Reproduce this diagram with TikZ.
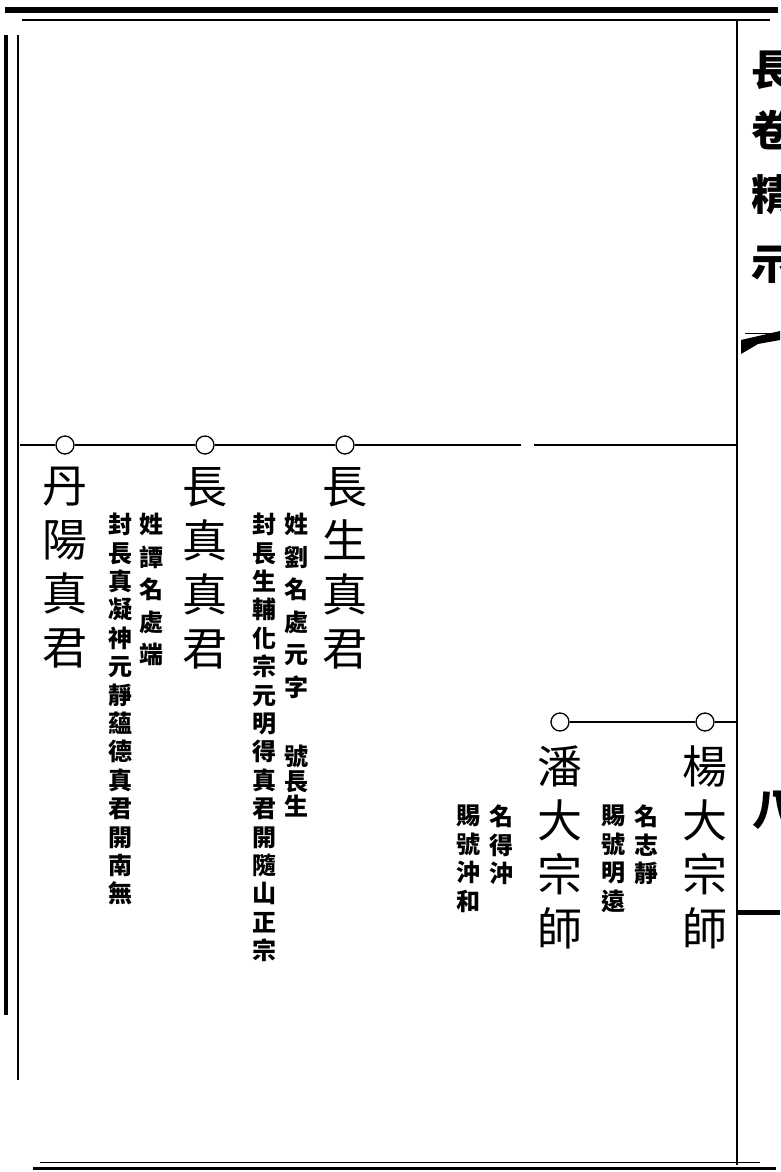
\documentclass[tikz,border=0pt]{standalone}
\usepackage{fontspec}
\newfontfamily\cjk{Noto Sans CJK TC}
\usetikzlibrary{positioning}
\tikzset{
  ring/.style={circle,draw,fill=white,line width=1.3pt,minimum size=18pt,inner sep=0pt},
  rule/.style={line width=1.4pt},
  mainname/.style={font=\cjk\fontsize{45}{54}\selectfont,align=center,anchor=north,inner sep=0pt},
  note/.style={font=\cjk\bfseries\fontsize{24}{28.4}\selectfont,align=center,anchor=north,inner sep=0pt},
  widenote/.style={note,font=\cjk\bfseries\fontsize{24}{32.5}\selectfont},
  tightnote/.style={note,font=\cjk\bfseries\fontsize{24}{25}\selectfont},
  edgechar/.style={font=\cjk\bfseries\fontsize{42}{42}\selectfont,inner sep=0pt},
}
\begin{document}
\begin{tikzpicture}[x=1pt,y=-1pt]
  \useasboundingbox (0,0) rectangle (780,1172);
  % page frame
  \draw[line width=6pt] (5,10) -- (778,10);
  \draw[line width=1.5pt] (22,20) -- (770,20);
  \draw[line width=4pt] (6,35) -- (6,1015);
  \draw[line width=1.5pt] (18,35) -- (18,1080);
  \draw[line width=3pt] (33,1168) -- (776,1168);
  \draw[line width=1pt] (40,1162) -- (760,1162);
  \draw[line width=2pt] (737,20) -- (737,1165);
  \draw[line width=5pt] (737,912) -- (780,912);
  \fill (741,354) -- (741,340) -- (780,331) -- (780,340) -- (758,344) -- cycle;
  \draw[line width=1pt] (745,333) -- (780,333);
  % first generation row
  \coordinate (r1-l) at (20,445);
  \coordinate (r1-gl) at (521,445);
  \coordinate (r1-gr) at (534,445);
  \coordinate (r1-r) at (737,445);
  \node[ring] (dy-o) at (65,445) {};
  \node[ring] (cz-o) at (205,445) {};
  \node[ring] (cs-o) at (345,445) {};
  \draw[rule] (r1-l) -- (dy-o);
  \draw[rule] (dy-o) -- (cz-o);
  \draw[rule] (cz-o) -- (cs-o);
  \draw[rule] (cs-o) -- (r1-gl);
  \draw[rule] (r1-gr) -- (r1-r);
  \node[mainname] (dy) at (65,467) {丹\\陽\\真\\君};
  \node[mainname] (cz) at (205,467) {長\\真\\真\\君};
  \node[mainname] (cs) at (345,467) {長\\生\\真\\君};
  \node[widenote] (cz-xing) at (151,513) {姓\\譚\\名\\處\\端};
  \node[note] (cz-feng) at (120,513) {封\\長\\真\\凝\\神\\元\\靜\\蘊\\德\\真\\君\\開\\南\\無};
  \node[widenote] (cs-xing) at (296,513) {姓\\劉\\名\\處\\元\\字};
  \node[tightnote] (cs-hao) at (296,745) {號\\長\\生};
  \node[note] (cs-feng) at (264,513) {封\\長\\生\\輔\\化\\宗\\元\\明\\得\\真\\君\\開\\隨\\山\\正\\宗};
  % second row
  \coordinate (r2-r) at (737,722);
  \node[ring] (yang-o) at (705,722) {};
  \node[ring] (pan-o) at (560,722) {};
  \draw[rule] (pan-o) -- (yang-o);
  \draw[rule] (yang-o) -- (r2-r);
  \node[mainname] (yang) at (705,745) {楊\\大\\宗\\師};
  \node[mainname] (pan) at (560,745) {潘\\大\\宗\\師};
  \node[note] (yang-ming) at (646,805) {名\\志\\靜};
  \node[note] (yang-ci) at (613,805) {賜\\號\\明\\遠};
  \node[note] (pan-ming) at (501,805) {名\\得\\沖};
  \node[note] (pan-ci) at (468,805) {賜\\號\\沖\\和};
  % next page edge, cut off
  \begin{scope}
    \clip (740,25) rectangle (780,1160);
    \node[edgechar] (edge1) at (772,70) {長};
    \node[edgechar] (edge2) at (772,130) {卷};
    \node[edgechar] (edge3) at (772,195) {精};
    \node[edgechar] (edge4) at (772,265) {示};
    \node[edgechar] (edge5) at (773,810) {八};
  \end{scope}
\end{tikzpicture}
\end{document}
